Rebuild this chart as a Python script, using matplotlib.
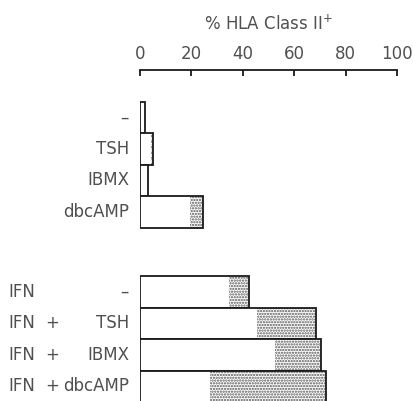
import matplotlib.pyplot as plt

plt.rcParams["font.family"] = ["DejaVu Sans"]
plt.rcParams["hatch.linewidth"] = 1.1

# top group: single treatments
top_labels = ["–", "TSH", "IBMX", "dbcAMP"]
top_plain = [2.0, 4.2, 3.0, 19.5]
top_total = [2.0, 5.0, 3.0, 24.5]

# bottom group: IFN plus treatment
ifn_labels = ["–", "TSH", "IBMX", "dbcAMP"]
ifn_plain = [34.5, 45.5, 52.5, 27.2]
ifn_total = [42.5, 68.6, 70.3, 72.2]

xticks = [0, 20, 40, 60, 80, 100]

TXT = "#505050"
EDGE = "#1a1a1a"
DOT = "#555555"

fig = plt.figure(figsize=(4.14, 4.01), dpi=100)
ax = fig.add_axes([140 / 414, 0, 257 / 414, 1 - 70 / 401])

top_pos = [1.5, 2.5, 3.5, 4.5]
ifn_pos = [7.04, 8.04, 9.04, 10.04]


def draw(pos, plain, total):
    for y, p, t in zip(pos, plain, total):
        ax.barh(y, p, height=1, color="white", linewidth=0)
        if t > p:
            ax.barh(y, t - p, left=p, height=1, color="white", edgecolor=DOT,
                    linewidth=0, hatch="......")
        ax.barh(y, t, height=1, fill=False, edgecolor=EDGE, linewidth=1.3)


draw(top_pos, top_plain, top_total)
draw(ifn_pos, ifn_plain, ifn_total)

ax.set_xlim(0, 100)
ax.set_ylim(10.5, 0)
ax.xaxis.tick_top()
ax.set_xticks(xticks)
ax.set_xticklabels([str(v) for v in xticks], color=TXT, fontsize=12)
ax.tick_params(axis="x", direction="in", length=4, width=1.3, color=EDGE, pad=5)
ax.set_yticks([])
for s in ["left", "right", "bottom"]:
    ax.spines[s].set_visible(False)
ax.spines["top"].set_linewidth(1.3)
ax.spines["top"].set_color(EDGE)

ax.set_title(r"% HLA Class $\mathrm{II}^{+}$", color=TXT, fontsize=12, pad=29)

# category labels
for y, lab in zip(top_pos, top_labels):
    fig.text(129 / 414, 1 - (70 + y * 31.5) / 401, lab, ha="right", va="center",
             color=TXT, fontsize=12)
for i, (y, lab) in enumerate(zip(ifn_pos, ifn_labels)):
    yy = 1 - (70 + y * 31.5) / 401
    fig.text(8 / 414, yy, "IFN", ha="left", va="center", color=TXT, fontsize=12)
    if i > 0:
        fig.text(52 / 414, yy, "+", ha="center", va="center", color=TXT, fontsize=12)
    fig.text(129 / 414, yy, lab, ha="right", va="center", color=TXT, fontsize=12)

fig.savefig("out.png", dpi=100)
